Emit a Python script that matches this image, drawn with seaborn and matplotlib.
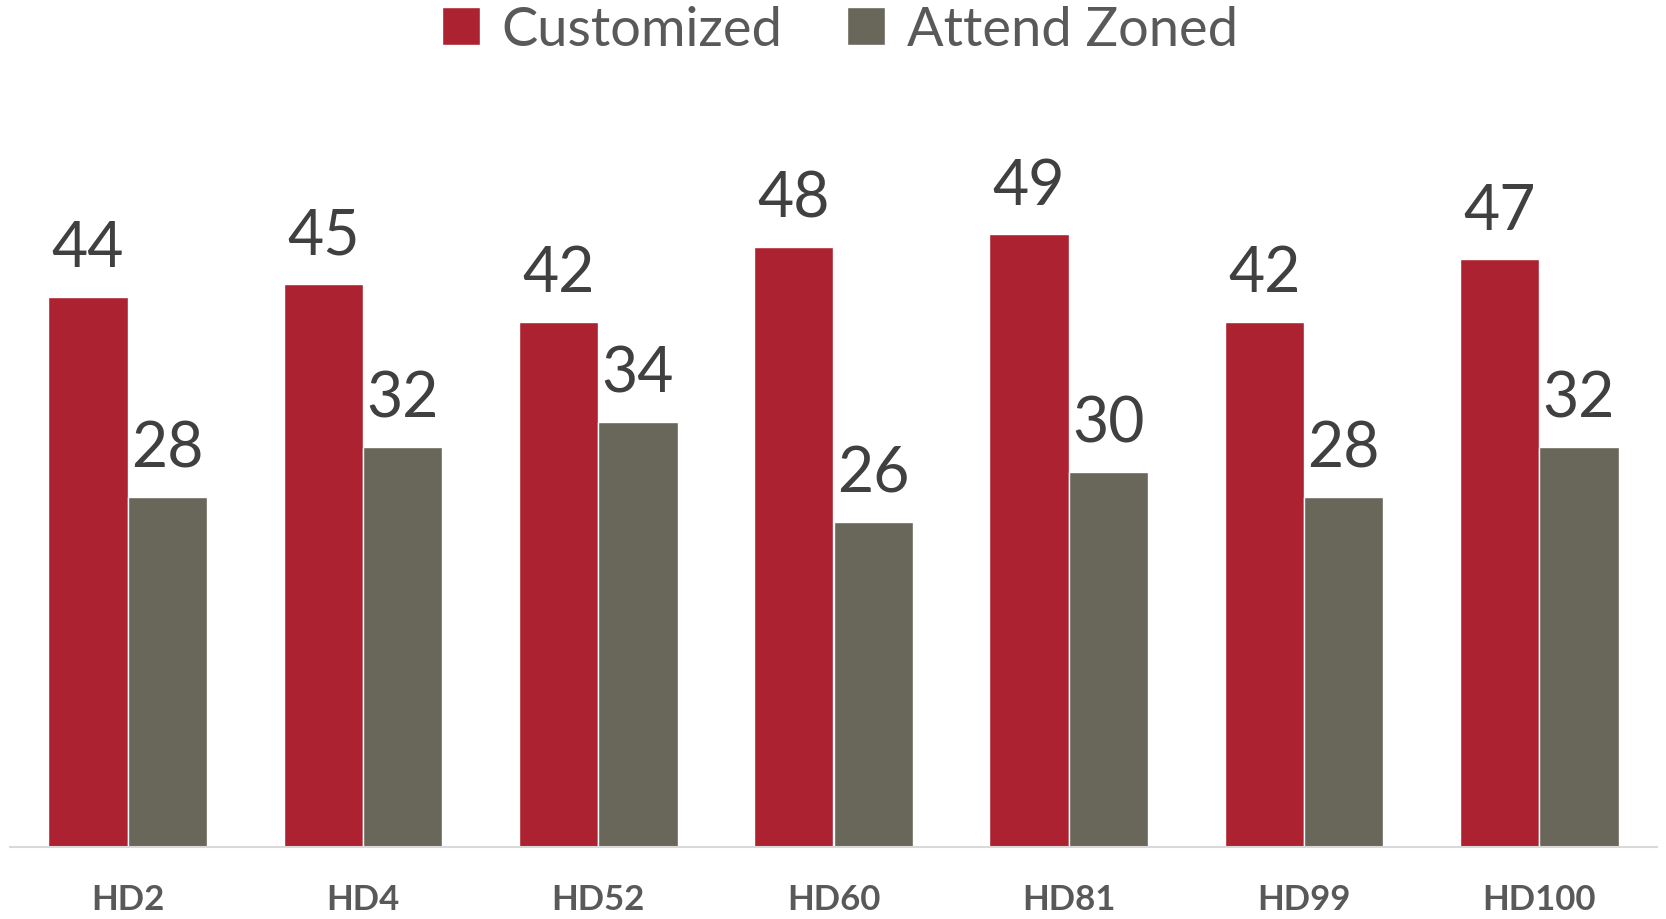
import matplotlib
matplotlib.use("Agg")
import matplotlib.pyplot as plt
import seaborn as sns
import pandas as pd

districts = ["HD2", "HD4", "HD52", "HD60", "HD81", "HD99", "HD100"]
customized = [44, 45, 42, 48, 49, 42, 47]
attend_zoned = [28, 32, 34, 26, 30, 28, 32]
series_names = ["Customized", "Attend Zoned"]
colors = ["#AC2231", "#69665A"]

df = pd.DataFrame({
    "district": districts * 2,
    "value": customized + attend_zoned,
    "group": [series_names[0]] * len(districts) + [series_names[1]] * len(districts),
})

sns.set_theme(style="white")
plt.rcParams["font.family"] = ["Lato", "DejaVu Sans"]

fig = plt.figure(figsize=(16.66, 9.2), dpi=100)

ax = fig.add_axes([10 / 1666, (920 - 848) / 920, 1647 / 1666, 848 / 920])
ax.patch.set_alpha(0)

sns.barplot(data=df, x="district", y="value", hue="group", palette=colors,
            width=0.675, saturation=1, gap=0, ax=ax, legend=True)

ax.set_ylim(0, 67.8)
ax.set_xlim(-0.5, len(districts) - 0.5)
for cont in ax.containers:
    ax.bar_label(cont, fmt="%d", padding=14, fontsize=45, color="#404040")

ax.set_xlabel("")
ax.set_ylabel("")
ax.set_yticks([])
ax.tick_params(axis="x", length=0, pad=26)
for lbl in ax.get_xticklabels():
    lbl.set_fontsize(25)
    lbl.set_fontweight("bold")
    lbl.set_color("#595959")
for s in ["top", "left", "right"]:
    ax.spines[s].set_visible(False)
ax.spines["bottom"].set_color("#D9D9D9")
ax.spines["bottom"].set_linewidth(1.5)

handles, labels = ax.get_legend_handles_labels()
ax.legend(handles, labels, loc="center", bbox_to_anchor=(840 / 1666, 1 - 30 / 920),
          bbox_transform=fig.transFigure, ncol=2, frameon=False, fontsize=39,
          handlelength=0.7, handleheight=0.7, handletextpad=0.4, columnspacing=1.2,
          labelcolor="#595959")

fig.savefig("out.png", dpi=100)
